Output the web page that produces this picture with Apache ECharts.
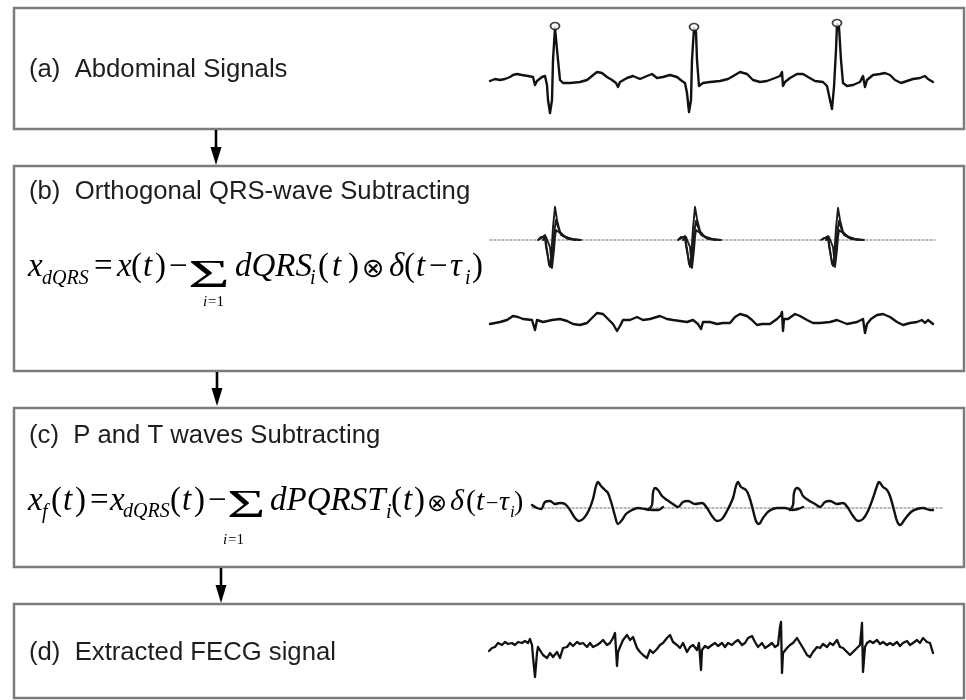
<!DOCTYPE html>
<html><head><meta charset="utf-8">
<script src="https://cdn.jsdelivr.net/npm/echarts@6/dist/echarts.min.js"></script>
<style>html,body{margin:0;padding:0;background:#fff}#c{width:966px;height:700px}</style>
</head><body><div id="c"></div>
<script>
// ---------- data (t = sample index, v = amplitude, arbitrary units) ----------
const abdominalSignal = [[0,0],[5,2],[10,1],[15,2],[20,4],[23,6],[27,7],[32,6],[38,5],[43,4],[45,-4],[47,0],[52,4],[55,5],[57,-4],[58,-19],[60,-32],[62,-19],[63,21],[65,53],[67,51],[68,21],[70,1],[73,-2],[80,-2],[90,-1],[97,1],[102,5],[107,9],[112,8],[117,4],[122,1],[126,-2],[128,-6],[130,-1],[137,3],[143,5],[150,2],[157,5],[162,7],[167,3],[173,4],[180,6],[187,4],[192,0],[195,-2],[197,-12],[199,-31],[201,-19],[202,21],[204,53],[206,49],[207,21],[209,-5],[213,-2],[220,-1],[230,0],[238,2],[245,6],[250,9],[257,7],[263,1],[270,-1],[277,0],[285,3],[290,5],[292,9],[293,-5],[295,-1],[300,3],[307,7],[313,7],[318,4],[325,0],[333,-1],[337,-5],[340,-19],[342,-28],[344,-6],[346,31],[347,57],[349,54],[351,21],[353,-2],[357,-5],[363,-4],[370,-1],[373,5],[375,-6],[377,1],[383,6],[390,7],[395,8],[400,6],[405,1],[411,-2],[417,0],[423,2],[430,3],[435,5],[438,2],[443,-1]];
const abdominalPeaks = [[65,55],[204,54],[347,58]];

const qrsBaseline = [[0,0],[445,0]];
const qrsTemplateA = [[48,0],[51,3],[55,2],[56,-7],[58,-17],[60,-27],[61,-20],[63,13],[65,33],[67,20],[70,8],[75,3],[81,1],[91,0],[92,'-'],
  [188,0],[191,3],[195,2],[196,-6],[198,-16],[200,-27],[201,-19],[203,12],[205,33],[207,21],[210,9],[215,3],[221,1],[231,0],[232,'-'],
  [331,0],[334,2],[338,2],[339,-6],[341,-17],[343,-26],[344,-20],[346,12],[348,32],[350,20],[353,8],[358,3],[364,1],[374,0]];
const qrsTemplateB = [[50,1],[55,5],[57,-10],[59,-25],[62,-23],[64,7],[66,20],[68,13],[71,5],[78,1],[90,0],[91,'-'],
  [190,1],[195,4],[197,-9],[199,-24],[202,-22],[204,6],[206,19],[208,13],[211,5],[218,1],[230,0],[231,'-'],
  [333,1],[338,4],[340,-10],[342,-24],[345,-22],[347,6],[349,19],[351,12],[354,5],[361,1],[373,0]];
const qrsTemplateC = [[53,0],[56,3],[60,-7],[62,-28],[64,-10],[65,3],[66,10],[70,7],[76,3],[85,0],[86,'-'],
  [193,0],[196,3],[200,-7],[202,-28],[204,-10],[205,3],[206,10],[210,7],[216,3],[225,0],[226,'-'],
  [336,0],[339,3],[343,-7],[345,-27],[347,-10],[348,3],[349,10],[353,7],[359,3],[368,0]];

const residualSignal = [[0,-2],[10,0],[17,2],[23,6],[28,5],[33,3],[42,2],[44,1],[45,-8],[47,2],[53,0],[62,2],[70,3],[77,1],[83,-2],[90,-3],[97,-1],[103,5],[107,9],[113,8],[118,3],[123,-2],[127,-9],[130,-4],[133,2],[140,2],[147,5],[153,2],[160,3],[170,6],[177,3],[183,2],[190,1],[197,0],[203,2],[208,-2],[211,-7],[213,0],[220,0],[227,-2],[233,-1],[240,-1],[245,5],[250,8],[257,6],[262,2],[267,-3],[272,-2],[280,-2],[287,3],[291,7],[292,10],[293,-9],[294,3],[298,3],[305,8],[310,6],[317,2],[323,-1],[330,-1],[340,0],[347,2],[357,-2],[367,0],[373,3],[375,-11],[377,-2],[381,3],[387,7],[393,8],[400,5],[407,0],[413,-3],[420,-1],[427,0],[432,2],[435,-1],[438,2],[443,-2]];

const ptBaseline = [[0,0],[410,0]];
const ptWaveSeg1 = [[0,3],[5,0],[9,-1],[13,6],[18,7],[23,4],[28,5],[33,4],[38,-2],[43,-10],[47,-13],[52,-10],[57,-2],[61,9],[64,22],[66,26],[69,22],[73,18],[76,15],[80,3],[83,-8],[86,-16],[90,-12],[94,-6],[100,-2],[106,0],[113,-1],[120,-2],[126,-2],[131,1]];
const ptWaveSeg2 = [[116,-2],[120,3],[121,15],[123,20],[126,18],[130,12],[135,8],[141,4],[146,1],[151,6],[156,7],[163,4],[170,5],[175,0],[180,-8],[185,-13],[190,-11],[195,-3],[201,10],[204,22],[206,26],[209,21],[214,18],[217,12],[221,-2],[224,-13],[227,-16],[231,-10],[237,-3],[245,0],[253,0],[260,-2],[266,-1],[271,1]];
const ptWaveSeg3 = [[258,-2],[261,3],[262,15],[265,20],[268,18],[271,12],[276,8],[283,4],[288,1],[293,6],[298,7],[305,4],[311,5],[316,0],[321,-8],[326,-13],[331,-11],[336,-3],[341,10],[345,22],[347,26],[351,21],[355,18],[358,12],[362,-2],[365,-13],[368,-17],[373,-11],[379,-4],[385,-1],[391,0],[398,-2],[401,-2]];

const fecgSignal = [[0,-1],[3,2],[6,3],[9,7],[13,5],[16,8],[19,6],[23,7],[26,5],[29,8],[33,7],[36,9],[39,7],[41,11],[43,5],[44,-7],[46,-27],[48,-3],[49,3],[51,1],[54,-5],[58,-8],[61,-3],[64,-7],[68,-2],[71,-8],[74,2],[78,3],[81,7],[84,4],[88,8],[91,6],[94,7],[98,3],[101,7],[104,3],[108,5],[111,7],[114,10],[118,5],[121,7],[124,12],[126,17],[128,-16],[129,-2],[131,3],[134,10],[138,15],[141,10],[144,13],[148,2],[151,-2],[154,-5],[158,-8],[161,0],[164,-3],[168,1],[171,5],[174,7],[178,12],[181,15],[184,8],[188,5],[191,2],[194,7],[198,-2],[201,3],[204,5],[208,0],[210,7],[212,-20],[213,0],[216,4],[219,2],[223,5],[226,7],[229,4],[233,7],[236,3],[239,7],[243,5],[246,8],[249,10],[253,5],[256,7],[259,12],[263,14],[266,8],[269,3],[273,7],[276,2],[279,4],[283,7],[286,3],[289,5],[291,23],[292,28],[293,-23],[294,-3],[298,2],[301,5],[304,7],[308,12],[311,7],[314,2],[318,-5],[321,-7],[324,-2],[328,3],[331,2],[334,6],[338,3],[341,7],[344,5],[348,10],[351,3],[354,2],[358,-2],[361,-5],[364,-2],[368,2],[371,5],[373,27],[374,-22],[376,3],[378,7],[381,9],[384,7],[388,10],[391,6],[394,8],[398,5],[401,7],[404,5],[408,8],[411,4],[414,7],[418,9],[421,5],[424,7],[428,10],[431,7],[434,12],[438,8],[441,7],[444,-3]];

// ---------- layout helpers ----------
const INK = '#111';
function gridAt(left, baseY, width, vmin, vmax) {
  return { left: left, top: baseY - vmax, width: width, height: vmax - vmin };
}
const grids = [
  gridAt(490, 81, 443, -40, 70),
  gridAt(490, 240, 445, -40, 40),
  gridAt(490, 322, 443, -25, 25),
  gridAt(532, 508, 410, -30, 40),
  gridAt(489, 650, 444, -35, 35)
];
const xMax = [443, 445, 443, 410, 444];
const yRange = [[-40,70],[-40,40],[-25,25],[-30,40],[-35,35]];
const xAxes = grids.map((g,i)=>({type:'value',gridIndex:i,min:0,max:xMax[i],show:false}));
const yAxes = grids.map((g,i)=>({type:'value',gridIndex:i,min:yRange[i][0],max:yRange[i][1],show:false}));

function lineSeries(data, gi, opt) {
  opt = opt || {};
  return { type:'line', xAxisIndex:gi, yAxisIndex:gi, data:data, showSymbol:false, symbol:'none',
    smooth: opt.smooth || false, silent:true, animation:false, connectNulls:false, z: opt.z || 3,
    lineStyle:{ color: opt.color || INK, width: opt.width || 2.3, type: opt.type || 'solid', cap:'round', join:'round' } };
}

// ---------- graphics: boxes, arrows, labels, formulas ----------
const BOX = '#7c7c7c';
function box(y, h) {
  return { type:'rect', shape:{x:14, y:y, width:950, height:h}, style:{fill:null, stroke:BOX, lineWidth:2.5}, z:1 };
}
function arrow(x, y1, y2) {
  return [
    { type:'line', shape:{x1:x, y1:y1, x2:x, y2:y2-14}, style:{stroke:'#000', lineWidth:2.6}, z:2 },
    { type:'polygon', shape:{points:[[x-5.5,y2-18],[x+5.5,y2-18],[x,y2]]}, style:{fill:'#000'}, z:2 }
  ];
}
function label(t, y) {
  return { type:'text', x:29, y:y, z:5,
    style:{ text:t, fontSize:25.7, fontFamily:'"Liberation Sans", Arial, sans-serif', fill:'#1e1e1e',
      align:'left', verticalAlign:'middle', textAlign:'left', textVerticalAlign:'middle' } };
}
function mt(t, x, baseline, size, o) {
  o = o || {};
  const fam = o.fam || '"Liberation Serif", "Times New Roman", serif';
  const k = o.k != null ? o.k : 0.3375;
  return { type:'text', x:x, y: baseline - k*size, scaleX: o.sx || 1, z:5,
    style:{ text:t, fontSize:size, fontFamily:fam, fontStyle: o.it ? 'italic' : 'normal', fill:'#000',
      align:'left', verticalAlign:'middle', textAlign:'left', textVerticalAlign:'middle' } };
}
const M = 33, S = 20, L = 15, IT = {it:true}, SIG = {sx:1.8};
const OT = {fam:'"DejaVu Sans", sans-serif', k:0.3};
const Bb = 278;
const formulaB = [
  mt('x',28,Bb,M,IT), mt('dQRS',42,Bb+7,S,IT), mt('=',94,Bb,M),
  mt('x',117,Bb,M,IT), mt('(',131,Bb,M), mt('t',143,Bb,M,IT), mt(')',155,Bb,M),
  mt('\u2212',169,Bb,M), mt('\u03A3',188,290,40,SIG),
  mt('i',203,307,L,IT), mt('=1',208,307,L),
  mt('dQRS',235,Bb,M,IT), mt('i',310,Bb+7,S,IT),
  mt('(',318,Bb,M), mt('t',332,Bb,M,IT), mt(')',348,Bb,M),
  mt('\u2297',362,Bb,27,OT),
  mt('\u03B4',389,Bb,M,IT), mt('(',404,Bb,M), mt('t',416,Bb,M,IT), mt('\u2212',429,Bb,M),
  mt('\u03C4',450,Bb,M,IT), mt('i',465,Bb+7,S,IT), mt(')',472,Bb,M)
];
const Bc = 512;
const formulaC = [
  mt('x',28,Bc,M,IT), mt('f',42,Bc+7,S,IT), mt('(',51,Bc,M), mt('t',63,Bc,M,IT), mt(')',75,Bc,M),
  mt('=',90,Bc,M), mt('x',110,Bc,M,IT), mt('dQRS',123,Bc+6,S,IT),
  mt('(',170,Bc,M), mt('t',182,Bc,M,IT), mt(')',194,Bc,M),
  mt('\u2212',208,Bc,M), mt('\u03A3',227,520,40,{sx:1.65}),
  mt('i',223,545,L,IT), mt('=1',228,545,L),
  mt('dPQRST',270,Bc,M,IT), mt('i',386,Bc+7,S,IT),
  mt('(',391,Bc,M), mt('t',403,Bc,M,IT), mt(')',414,Bc,M),
  mt('\u2297',427,Bc,24,OT),
  mt('\u03B4',450,Bc,30,IT), mt('(',466,Bc,30), mt('t',476,Bc,30,IT), mt('\u2212',486,Bc,22),
  mt('\u03C4',499,Bc,28,IT), mt('i',510,Bc+6,17,IT), mt(')',514,Bc,28)
];

const graphics = [
  box(8,121), box(166,205), box(408,159), box(604,94),
  ...arrow(216,130,165), ...arrow(217,372,406), ...arrow(221,568,603),
  label('(a)  Abdominal Signals', 70),
  label('(b)  Orthogonal QRS-wave Subtracting', 192),
  label('(c)  P and T waves Subtracting', 436),
  label('(d)  Extracted FECG signal', 653),
  ...formulaB, ...formulaC
];

const chart = echarts.init(document.getElementById('c'), null, {renderer:'canvas'});
chart.setOption({
  backgroundColor:'#fff',
  animation:false,
  grid: grids,
  xAxis: xAxes,
  yAxis: yAxes,
  graphic: { elements: graphics },
  series: [
    lineSeries(abdominalSignal, 0, {width:2.4}),
    { type:'scatter', xAxisIndex:0, yAxisIndex:0, data:abdominalPeaks, symbol:'circle', symbolSize:[9,7], z:4, silent:true,
      itemStyle:{ color:'#fff', borderColor:INK, borderWidth:1.6 } },
    lineSeries(qrsBaseline, 1, {color:'#a0a0a0', width:1.3, type:[2,2], z:2}),
    lineSeries(qrsTemplateA, 1, {width:1.9, color:'#1a1a1a'}),
    lineSeries(qrsTemplateB, 1, {width:1.9, color:'#1a1a1a'}),
    lineSeries(qrsTemplateC, 1, {width:1.9, color:'#1a1a1a'}),
    lineSeries(residualSignal, 2, {width:2.4}),
    lineSeries(ptBaseline, 3, {color:'#a0a0a0', width:1.3, type:[2,2], z:2}),
    lineSeries(ptWaveSeg1, 3, {smooth:0.35, width:2.4}),
    lineSeries(ptWaveSeg2, 3, {smooth:0.35, width:2.4}),
    lineSeries(ptWaveSeg3, 3, {smooth:0.35, width:2.4}),
    lineSeries(fecgSignal, 4, {width:2.3})
  ]
});
</script></body></html>
